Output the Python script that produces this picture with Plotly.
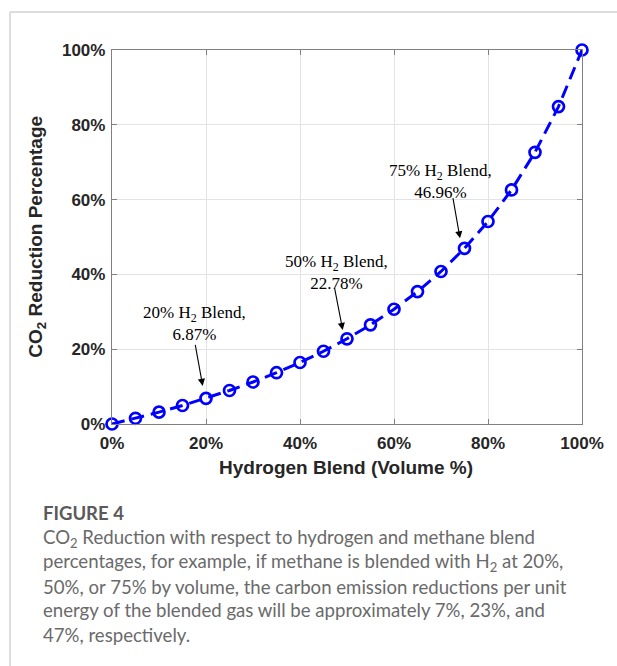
import plotly.graph_objects as go

# ---- data ----
h2_blend = [0, 5, 10, 15, 20, 25, 30, 35, 40, 45, 50, 55, 60, 65, 70, 75, 80, 85, 90, 95, 100]
co2_reduction = [0.0, 1.53, 3.17, 4.95, 6.87, 8.96, 11.23, 13.71, 16.44, 19.45, 22.78,
                 26.51, 30.68, 35.40, 40.78, 46.96, 54.14, 62.58, 72.65, 84.86, 100.0]
tick_vals = [0, 20, 40, 60, 80, 100]
tick_text = ["0%", "20%", "40%", "60%", "80%", "100%"]
callout_blend = [20, 50, 75]
callout_value = [6.87, 22.78, 46.96]
caption_title = "FIGURE 4"
caption_lines = [
    "CO<sub>2</sub> Reduction with respect to hydrogen and methane blend",
    "percentages, for example, if methane is blended with H<sub>2</sub> at 20%,",
    "50%, or 75% by volume, the carbon emission reductions per unit",
    "energy of the blended gas will be approximately 7%, 23%, and",
    "47%, respectively.",
]

W, H = 617, 666
L, R, T, B = 112, 35, 50, 242
PW, PH = W - L - R, H - T - B


def px(x):
    return (x - L) / PW


def py(y):
    return (H - B - y) / PH


fig = go.Figure()
fig.add_trace(go.Scatter(
    x=h2_blend, y=co2_reduction, mode="lines+markers", cliponaxis=False,
    line=dict(color="#0000FF", width=3, dash="13px,7px"),
    marker=dict(symbol="circle-open", size=11, color="#0000FF",
                line=dict(width=2.7, color="#0000FF")),
    showlegend=False, hoverinfo="skip",
))

axis_common = dict(
    range=[0, 100], tickvals=tick_vals, ticktext=tick_text,
    ticks="inside", ticklen=5, tickwidth=1, tickcolor="#808080",
    showline=True, linecolor="#808080", linewidth=1.3, mirror="allticks",
    showgrid=True, gridcolor="#e3e3e3", gridwidth=1, zeroline=False,
    tickfont=dict(family="Liberation Sans", size=17, color="#262626", weight=700),
)
fig.update_xaxes(**axis_common, ticklabelstandoff=3)
fig.update_yaxes(**axis_common, ticklabelstandoff=2)

annots = []
# callout arrows and labels (positions laid out in pixels, converted to axis units)
tips = [(202.7, 386.0), (342.7, 330.0), (460.0, 238.3)]
tails = [(195.0, 343.3), (334.3, 286.7), (452.7, 196.7)]
label_pos = [(194.0, 323.0), (336.7, 272.6), (440.8, 181.2)]
for i, (b, v) in enumerate(zip(callout_blend, callout_value)):
    tx, ty = tips[i]
    sx, sy = tails[i]
    annots.append(dict(
        x=px(tx) * 100, y=py(ty) * 100, xref="x", yref="y",
        ax=px(sx) * 100, ay=py(sy) * 100, axref="x", ayref="y",
        text="", showarrow=True, arrowhead=2, arrowsize=1.3, arrowwidth=1.1,
        arrowcolor="#000000", standoff=0, startstandoff=0,
    ))
    lx, ly = label_pos[i]
    annots.append(dict(x=px(lx), y=py(ly), xref="paper", yref="paper",
                       text=f"{b}% H<sub>2</sub> Blend,<br>{v:.2f}%", showarrow=False,
                       xanchor="center", yanchor="middle", align="center",
                       font=dict(family="Liberation Serif", size=17, color="#000000")))

# axis titles
annots.append(dict(x=px(345.9), y=py(467), xref="paper", yref="paper",
                   text="Hydrogen Blend (Volume %)", showarrow=False,
                   xanchor="center", yanchor="middle",
                   font=dict(family="Liberation Sans", size=19, color="#262626", weight=700)))
annots.append(dict(x=px(37), y=py(236.7), xref="paper", yref="paper",
                   text="CO<sub>2</sub> Reduction Percentage", showarrow=False,
                   textangle=-90, xanchor="center", yanchor="middle",
                   font=dict(family="Liberation Sans", size=19, color="#262626", weight=700)))

# caption
annots.append(dict(x=px(40.5), y=py(513), xref="paper", yref="paper",
                   text=caption_title, showarrow=False, xanchor="left", yanchor="middle",
                   font=dict(family="Lato", size=18.5, color="#5a5a5a", weight=700)))
cap_y = [538, 562, 587, 610, 635]
for yy, line in zip(cap_y, caption_lines):
    annots.append(dict(x=px(40.5), y=py(yy), xref="paper", yref="paper",
                       text=line, showarrow=False, xanchor="left", yanchor="middle",
                       font=dict(family="Lato", size=18.6, color="#6a6a6a")))

shapes = [
    dict(type="line", xref="paper", yref="paper", x0=px(10), x1=px(617), y0=py(12), y1=py(12),
         line=dict(color="#d2d2d2", width=1.5)),
    dict(type="line", xref="paper", yref="paper", x0=px(10), x1=px(10), y0=py(12), y1=py(666),
         line=dict(color="#d2d2d2", width=1.5)),
]

fig.update_layout(
    width=W, height=H, margin=dict(l=L, r=R, t=T, b=B, pad=0),
    paper_bgcolor="white", plot_bgcolor="white",
    annotations=annots, shapes=shapes,
)
fig.write_html("out.html")
